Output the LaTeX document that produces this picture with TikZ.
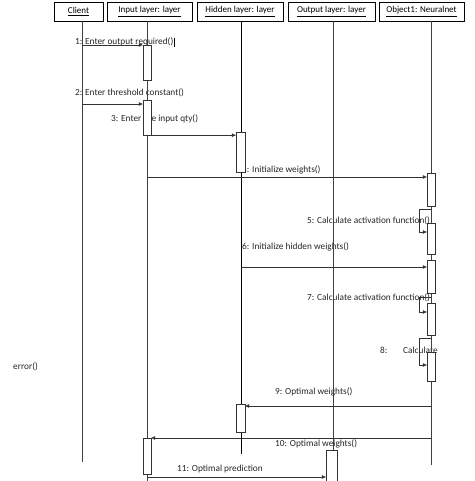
\documentclass[tikz,border=0pt]{standalone}
\usepackage{fontspec}
\setmainfont{Carlito}
\usetikzlibrary{arrows.meta}
\begin{document}
\begin{tikzpicture}[x=1pt,y=-1pt,
	head/.style={draw, thin, minimum height=19pt, inner sep=0pt, font=\fontsize{9}{10.8}\selectfont},
	life/.style={black!75, thin},
	act/.style={draw, black!80, fill=white, thin, minimum width=8pt, inner sep=0pt},
	msg/.style={black!80, thin, -{Triangle[length=4pt,width=3.5pt]}},
	lbl/.style={font=\fontsize{9.3}{11}\selectfont, text=black!85, inner sep=0pt, anchor=west}]
	\useasboundingbox (0,0) rectangle (474,481);

	% object heads
	\node[head, minimum width=49pt] (client) at (78.5,11.5) {\underline{Client}\hspace{13pt}};
	\node[head, minimum width=85pt] (input) at (149.5,11.5) {\underline{Input layer: layer}\hspace{6pt}};
	\node[head, minimum width=86pt] (hidden) at (240,11.5) {\underline{Hidden layer: layer}};
	\node[head, minimum width=87pt] (output) at (331.5,11.5) {\underline{Output layer: layer}\hspace{3pt}};
	\node[head, minimum width=85pt] (neural) at (421.5,11.5) {\underline{Object1: Neuralnet}};

	% message texts
	\node[lbl] (t1) at (75,42) {1: Enter output required()};
	\node[lbl] (t2) at (75,93) {2: Enter threshold constant()};
	\node[lbl] (t3) at (111,119) {3: Enter the input qty()};
	\node[lbl] (t4) at (242,170) {4: Initialize weights()};
	\node[lbl] (t5) at (307,221) {5: Calculate activation function()};
	\node[lbl] (t6) at (242,247) {6: Initialize hidden weights()};
	\node[lbl] (t7) at (307,298) {7: Calculate activation function()};
	\node[lbl] (t8a) at (380,350) {8:};
	\node[lbl] (t8b) at (403,350) {Calculate};
	\node[lbl] (t8c) at (13,367) {error()};
	\node[lbl] (t9) at (275,392) {9: Optimal weights()};
	\node[lbl] (t10) at (275,444) {10: Optimal weights()};
	\node[lbl] (t11) at (177,469) {11: Optimal prediction};
	\draw[line width=1.2pt] (t1.north east) ++(1,0) -- ++(0,9);

	% lifelines
	\coordinate (clientEnd) at (82,462);
	\coordinate (inputEnd) at (147,481);
	\coordinate (hiddenEnd) at (241,454);
	\coordinate (outputEnd) at (333,481);
	\coordinate (neuralEnd) at (431,465);
	\draw[life] (client.south -| clientEnd) -- (clientEnd);
	\draw[life] (input.south -| inputEnd) -- (inputEnd);
	\draw[black, line width=0.9pt] (hidden.south -| hiddenEnd) -- (hiddenEnd);
	\draw[life] (output.south -| outputEnd) -- (outputEnd);
	\draw[life] (neural.south -| neuralEnd) -- (neuralEnd);

	% activation boxes
	\node[act, minimum height=35pt] (i1) at (147,62.5) {};
	\node[act, minimum height=35pt] (i2) at (147,117.5) {};
	\node[act, minimum height=36pt] (i3) at (147,456) {};
	\node[act, minimum width=9pt, minimum height=40pt] (h1) at (240.5,152) {};
	\node[act, minimum width=9pt, minimum height=28pt] (h2) at (240.5,418) {};
	\node[act, minimum height=33pt] (o1) at (431,189.5) {};
	\node[act, minimum height=31pt] (o2) at (431,238.5) {};
	\node[act, minimum height=33pt] (o3) at (431,276.5) {};
	\node[act, minimum height=32pt] (o4) at (431,319) {};
	\node[act, minimum height=29pt] (o5) at (431,366.5) {};
	\node[act, minimum width=11pt, minimum height=34pt] (u1) at (331.5,467) {};

	% messages
	\coordinate (m1) at (82,45);
	\coordinate (m2) at (82,104);
	\coordinate (m4) at (147,177);
	\coordinate (m6) at (241,267);
	\coordinate (m9) at (431,406);
	\coordinate (m10) at (431,438);
	\coordinate (m11) at (147,477);
	\draw[msg] (m1) -- (m1 -| i1.west);
	\draw[msg] (m2) -- (m2 -| i2.west);
	\draw[msg] (i2.south east) -- (i2.south east -| h1.west);
	\draw[msg] (m4) -- (m4 -| o1.west);
	\draw[msg] (m6) -- (m6 -| o3.west);
	\draw[msg] (m9) -- (m9 -| h2.east);
	\draw[msg] (m10) -- (m10 -| i3.east);
	\draw[msg] (m11) -- (m11 -| u1.west);

	% self calls
	\coordinate (s5) at (431,209);
	\coordinate (s7) at (431,297);
	\coordinate (s8) at (431,338);
	\draw[msg] (s5) -- ++(-12,0) |- (o2.west |- 0,232);
	\draw[msg] (s7) -- ++(-12,0) |- (o4.west |- 0,312);
	\draw[msg] (s8) -- ++(-12,0) |- (o5.west |- 0,365);
\end{tikzpicture}
\end{document}
